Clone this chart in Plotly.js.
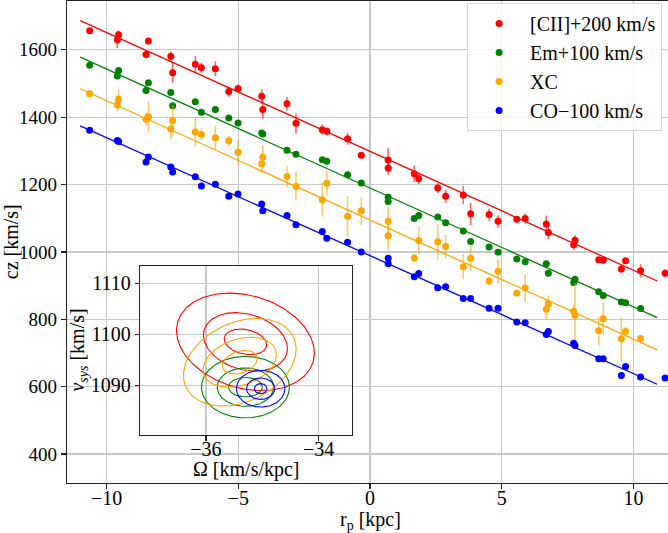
<!DOCTYPE html>
<html><head><meta charset="utf-8">
<script src="https://cdn.plot.ly/plotly-3.0.1.min.js"></script>
<style>
html,body{margin:0;padding:0;overflow:hidden;background:#fff;width:668px;height:533px}
#main{position:absolute;left:0;top:0;width:673px;height:533px}
#inset{position:absolute;left:0;top:0;width:668px;height:533px;pointer-events:none}
</style></head><body>
<div id="main"></div><div id="inset"></div>
<script>
// ---------------- data ----------------
const r_kpc = [-10.64,-9.59,-9.54,-8.50,-8.41,-7.56,-7.49,-6.63,-6.40,-5.87,-5.36,-5.01,-4.11,-4.07,-3.15,-2.81,-1.81,-1.64,-0.85,-0.33,0.69,0.69,1.68,1.85,2.57,2.87,3.54,3.82,4.52,4.86,5.57,5.89,6.69,6.77,7.73,7.78,8.68,8.85,9.54,9.70,10.27,11.20];

// plotted cz values (already shifted by the offsets in the legend)
const cz_cii = [1657,1630,1645,1586,1626,1581,1532,1557,1547,1544,1476,1485,1462,1423,1440,1382,1363,1358,1336,1287,1273,1249,1232,1217,1190,1165,1169,1113,1111,1091,1097,1099,1083,1058,1021,1035,977,975,949,974,944,937];
const err_cii = [8,25,12,12,10,15,30,25,15,22,15,12,22,27,20,30,15,12,18,8,35,20,25,15,15,20,27,33,18,18,10,15,25,20,15,15,8,10,12,8,20,12];

const cz_em = [1554,1522,1539,1479,1502,1473,1434,1446,1415,1423,1398,1383,1353,1350,1302,1290,1274,1269,1229,1205,1162,1150,1099,1108,1104,1087,1062,1031,1015,999,979,971,965,937,909,919,882,871,851,849,832,null];
const err_em = [4,4,4,4,4,4,4,4,4,4,4,4,4,4,4,4,4,4,4,4,4,4,4,4,4,4,4,4,4,4,4,4,4,4,4,4,4,4,4,4,4,null];

const cz_xc = [1470,1437,1454,1394,1402,1365,1390,1356,1349,1339,1330,1296,1262,1281,1224,1195,1155,1204,1106,1122,1091,1048,982,1034,1030,1016,956,981,914,943,878,893,830,846,824,812,766,802,742,764,743,null];
const err_xc = [5,20,30,20,45,30,45,45,18,35,15,38,28,35,32,42,50,37,60,42,42,42,12,41,53,35,37,37,12,36,10,40,30,25,20,95,42,48,65,15,10,null];

const cz_co = [1361,1331,1328,1267,1282,1252,1237,1223,1196,1201,1165,1172,1142,1122,1108,1081,1061,1041,1029,1000,981,965,926,936,894,897,862,862,833,833,792,790,755,764,729,722,683,683,633,660,629,626];
const err_co = [3,3,3,3,3,3,3,3,3,3,3,3,3,3,3,3,3,3,3,3,3,3,3,3,3,3,3,3,3,3,3,3,3,3,3,3,3,3,3,3,3,3];

const seriesNames = ['[CII]+200 km/s','Em+100 km/s','XC','CO\u2212100 km/s'];
const seriesColors = ['#ff0000','#008000','#ffa500','#0000ff'];
const errColors = ['rgba(255,0,0,0.6)','rgba(0,128,0,0.6)','rgba(255,165,0,0.6)','rgba(0,0,255,0.6)'];
const offsets = [200,100,0,-100];

// fitted rotation (Omega, km/s/kpc) and systemic velocity (km/s)
const fitOmega = [-35.30,-35.30,-35.40,-35.03];
const fitVsys = [1098.5,1090.0,1095.0,1089.0];
const fitRange = [-11.0,10.9];

// inset contour ellipses: semi-extents for three levels and correlation
const ellOmegaC = [-35.30,-35.30,-35.40,-35.03];
const ellVsysC = [1098.5,1089.6,1094.5,1089.3];
const ellSemiOmega = [[0.376,0.745,1.222],[0.30,0.50,0.78],[0.31,0.65,1.00],[0.11,0.25,0.43]];
const ellSemiV = [[2.52,5.74,9.57],[1.9,3.77,6.03],[2.3,4.9,8.6],[1.0,2.1,3.6]];
const ellRho = [-0.23,0.0,0.30,0.0];

// ---------------- main plot ----------------
const FONT = 'Liberation Serif, "DejaVu Serif", serif';
const czs = [cz_cii,cz_em,cz_xc,cz_co];
const errs = [err_cii,err_em,err_xc,err_co];
const traces = [];
for (let i=0;i<4;i++){
  traces.push({
    x: fitRange,
    y: fitRange.map(r => fitVsys[i] + offsets[i] + fitOmega[i]*r),
    mode:'lines', line:{color:seriesColors[i], width:1.3},
    showlegend:false, hoverinfo:'skip'
  });
}
for (let i=0;i<4;i++){
  traces.push({
    x: r_kpc, y: czs[i], mode:'markers', name: seriesNames[i],
    marker:{color:seriesColors[i], size:7},
    error_y:{type:'data', array: errs[i], visible:true, thickness:1.6, width:0, color: errColors[i]}
  });
}
const axisCommon = {
  showgrid:true, gridcolor:'#c8c8c8', gridwidth:1.2, zeroline:false,
  showline:true, linecolor:'#222', linewidth:1.3, mirror:true,
  ticks:'outside', ticklen:5, tickwidth:1.2, tickcolor:'#222',
  tickfont:{family:FONT, size:20, color:'#000'}
};
const layout = {
  width:673, height:533, margin:{l:67,r:0,t:1,b:50},
  paper_bgcolor:'#fff', plot_bgcolor:'#fff',
  font:{family:FONT, color:'#000'},
  xaxis: Object.assign({}, axisCommon, {range:[-11.5,11.5], tickvals:[-10,-5,0,5,10], ticklabelstandoff:-8}),
  yaxis: Object.assign({}, axisCommon, {range:[314,1745], tickvals:[400,600,800,1000,1200,1400,1600],
    tickfont:{family:FONT, size:19, color:'#000'}}),
  annotations:[
    {text:'r<sub>p</sub> [kpc]', xref:'paper', yref:'paper', x:0.5, y:-0.0768, xanchor:'center', yanchor:'middle',
     showarrow:false, font:{family:FONT,size:20,color:'#000'}},
    {text:'cz [km/s]', xref:'paper', yref:'paper', x:-0.092, y:0.5, xanchor:'center', yanchor:'middle',
     textangle:-90, showarrow:false, font:{family:FONT,size:20,color:'#000'}}
  ],
  legend:{x:0.982, y:0.9959, xanchor:'right', yanchor:'top', bgcolor:'rgba(255,255,255,0.85)',
    bordercolor:'#d5d5d5', borderwidth:1, font:{family:FONT,size:20}, itemwidth:52},
  showlegend:true
};
Plotly.newPlot('main', traces, layout, {displayModeBar:false, staticPlot:true});

// ---------------- inset ----------------
const insetTraces = [];
const NT = 180;
for (let i=0;i<4;i++){
  for (let k=0;k<3;k++){
    const a = ellSemiOmega[i][k], b = ellSemiV[i][k], rho = ellRho[i];
    const xs=[], ys=[];
    for (let j=0;j<=NT;j++){
      const t = 2*Math.PI*j/NT;
      xs.push(ellOmegaC[i] + a*Math.cos(t));
      ys.push(ellVsysC[i] + b*(rho*Math.cos(t) + Math.sqrt(1-rho*rho)*Math.sin(t)));
    }
    insetTraces.push({x:xs, y:ys, mode:'lines', line:{color:seriesColors[i], width:1.1}, showlegend:false, hoverinfo:'skip'});
  }
}
const insetLayout = {
  width:668, height:533, margin:{l:140, r:316.3, t:266, b:98},
  paper_bgcolor:'rgba(0,0,0,0)', plot_bgcolor:'#fff',
  font:{family:FONT, color:'#000'},
  xaxis: Object.assign({}, axisCommon, {range:[-37.17,-33.41], tickvals:[-36,-34], ticklabelstandoff:-9}),
  yaxis: Object.assign({}, axisCommon, {range:[1080.2,1113.4], tickvals:[1090,1100,1110], ticklen:4}),
  annotations:[
    {text:'\u03A9 [km/s/kpc]', xref:'paper', yref:'paper', x:0.5, y:-0.207, xanchor:'center', yanchor:'middle',
     showarrow:false, font:{family:FONT,size:20,color:'#000'}},
    {text:'<i>v</i><sub><i>sys</i></sub> [km/s]', xref:'paper', yref:'paper', x:-0.292, y:0.5, xanchor:'center', yanchor:'middle',
     textangle:-90, showarrow:false, font:{family:FONT,size:20,color:'#000'}}
  ],
  showlegend:false
};
Plotly.newPlot('inset', insetTraces, insetLayout, {displayModeBar:false, staticPlot:true});
</script></body></html>
